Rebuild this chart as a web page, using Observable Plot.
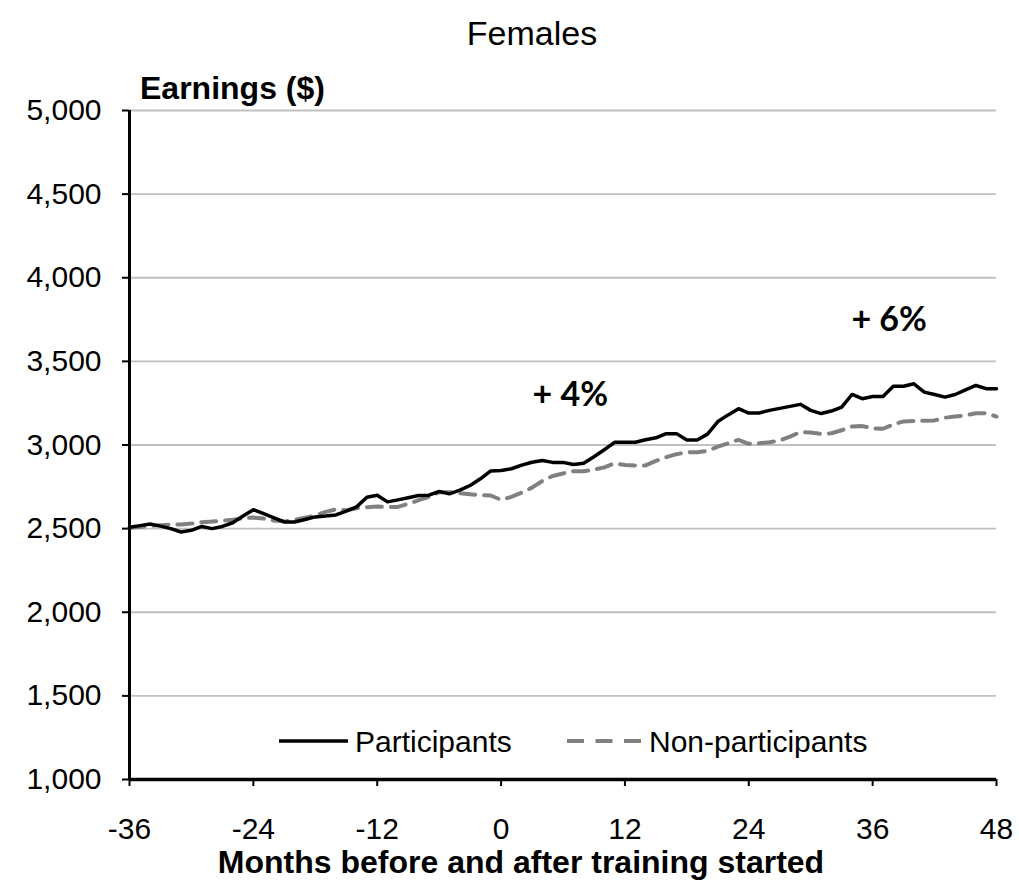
<!DOCTYPE html>
<html><head><meta charset="utf-8">
<script src="https://cdn.jsdelivr.net/npm/d3@7"></script>
<script src="https://cdn.jsdelivr.net/npm/@observablehq/plot@0.6"></script>
<style>
body{margin:0;background:#fff;font-family:"Liberation Sans",Arial,sans-serif;}
#wrap{position:relative;width:1019px;height:884px;overflow:hidden;}
#chart{position:absolute;left:0;top:0;}
.t{position:absolute;white-space:nowrap;color:#000;line-height:1;}
#title{left:382px;width:300px;text-align:center;top:16px;font-size:34px;}
#ylab{left:140px;top:72px;font-size:32px;font-weight:bold;}
#xlab{left:0;width:1042px;text-align:center;top:846px;font-size:32px;font-weight:bold;}
#legend{position:absolute;left:0;top:720px;}
</style></head><body>
<div id="wrap">
  <div id="chart"></div>
  <div class="t" id="title">Females</div>
  <div class="t" id="ylab">Earnings ($)</div>
  <div class="t" id="xlab">Months before and after training started</div>
  <svg id="legend" width="1019" height="42"></svg>
</div>
<script>
const months = [-36,-35,-34,-33,-32,-31,-30,-29,-28,-27,-26,-25,-24,-23,-22,-21,-20,-19,-18,-17,-16,-15,-14,-13,-12,-11,-10,-9,-8,-7,-6,-5,-4,-3,-2,-1,0,1,2,3,4,5,6,7,8,9,10,11,12,13,14,15,16,17,18,19,20,21,22,23,24,25,26,27,28,29,30,31,32,33,34,35,36,37,38,39,40,41,42,43,44,45,46,47,48];
const participants = [2508,2518,2528,2515,2500,2480,2490,2513,2500,2513,2535,2575,2613,2590,2565,2540,2540,2555,2570,2575,2582,2605,2630,2688,2700,2660,2672,2685,2698,2700,2722,2708,2730,2758,2798,2845,2848,2858,2880,2897,2907,2896,2896,2883,2891,2930,2972,3016,3016,3016,3031,3043,3068,3068,3030,3030,3065,3140,3180,3217,3191,3191,3207,3219,3231,3243,3207,3188,3203,3227,3302,3277,3290,3290,3351,3351,3366,3316,3302,3286,3302,3330,3356,3337,3337];
const nonParticipants = [2505,2510,2517,2520,2524,2525,2530,2538,2542,2548,2553,2562,2566,2560,2548,2542,2552,2565,2578,2600,2615,2610,2622,2628,2632,2630,2630,2648,2670,2690,2718,2718,2712,2706,2700,2698,2672,2690,2715,2745,2785,2815,2830,2843,2843,2852,2866,2890,2880,2878,2878,2905,2927,2945,2957,2957,2965,2990,3010,3031,3007,3010,3017,3027,3050,3078,3075,3067,3070,3088,3111,3113,3100,3097,3123,3141,3143,3145,3147,3163,3170,3177,3190,3190,3170];
const seriesNames = ["Participants","Non-participants"];
const xTicks = [-36,-24,-12,0,12,24,36,48];
const yTicks = [1000,1500,2000,2500,3000,3500,4000,4500,5000];
const annotationLabels = ["+ 4%","+ 6%"];
const annotationMonths = [6.7,37.6];
const annotationValues = [3300,3745];

const partRows = months.map((m,i)=>({month:m, value:participants[i]}));
const nonRows = months.map((m,i)=>({month:m, value:nonParticipants[i]}));
const notes = annotationLabels.map((t,i)=>({text:t, month:annotationMonths[i], value:annotationValues[i]}));

const chart = Plot.plot({
  width:1019, height:884,
  marginLeft:129, marginRight:23, marginTop:110, marginBottom:105,
  style:{fontFamily:"'Liberation Sans', Arial, sans-serif", fontSize:"30px", color:"#000", background:"transparent"},
  x:{domain:[-36,48], label:null},
  y:{domain:[1000,5000], label:null},
  marks:[
    Plot.gridY(yTicks.filter(d=>d>1000), {stroke:"#c0c0c0", strokeOpacity:1, strokeWidth:1.8}),
    Plot.axisY({ticks:yTicks, tickSize:7, tickPadding:21, tickFormat:d3.format(","), label:null, stroke:"#000", strokeWidth:2, fontSize:30}),
    Plot.axisX({ticks:xTicks, tickSize:7, tickPadding:31, tickFormat:d=>String(d), label:null, stroke:"#000", strokeWidth:2, fontSize:30}),
    Plot.line(nonRows, {x:"month", y:"value", stroke:"#808080", strokeWidth:4, strokeDasharray:"15,9", strokeLinejoin:"round"}),
    Plot.line(partRows, {x:"month", y:"value", stroke:"#000", strokeWidth:3.5, strokeLinejoin:"round"}),
    Plot.ruleX([-36], {stroke:"#000", strokeWidth:3}),
    Plot.ruleY([1000], {stroke:"#000", strokeWidth:3.5}),
    Plot.text(notes, {x:"month", y:"value", text:"text", fontFamily:"Lato, 'Open Sans', sans-serif", fontWeight:"bold", fontSize:34, fill:"#000"})
  ]
});
document.getElementById("chart").appendChild(chart);

// legend
const lg = d3.select("#legend");
const items = [
  {name:seriesNames[0], x1:279, x2:348, stroke:"#000", w:3.5, dash:null, tx:355},
  {name:seriesNames[1], x1:567, x2:641, stroke:"#808080", w:4, dash:"17,11.5", tx:649}
];
items.forEach(it=>{
  lg.append("line").attr("x1",it.x1).attr("x2",it.x2).attr("y1",21).attr("y2",21)
    .attr("stroke",it.stroke).attr("stroke-width",it.w).attr("stroke-dasharray",it.dash);
  lg.append("text").attr("x",it.tx).attr("y",21).attr("dy","0.36em")
    .attr("font-family","'Liberation Sans', Arial, sans-serif").attr("font-size",30).text(it.name);
});
</script>
</body></html>
